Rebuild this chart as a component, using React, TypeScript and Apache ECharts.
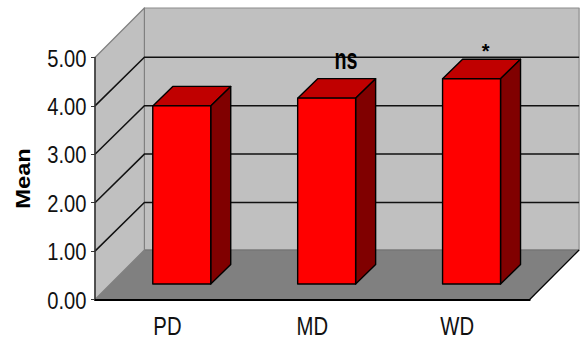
import React, { useEffect, useRef } from "react";
import * as echarts from "echarts";

const categories = ["PD", "MD", "WD"];
const meanValues = [3.68, 3.84, 4.24];
const significance = ["", "ns", "*"];
const gridTicks = [1, 2, 3, 4];
const allTicks = [0, 1, 2, 3, 4, 5];
const yMax = 5;

// Oblique projection of the plot box and of the bars inside it, in pixels.
const DEPTH_X = 49.4;
const DEPTH_Y = 49.5;
const GRID_DEPTH_Y = 48.6;
const BAR_FRONT_X = 14.3;
const BAR_FRONT_Y = 15.5;
const BAR_DEPTH_X = 20;
const BAR_DEPTH_Y = 19.5;
const BAR_WIDTH_SHARE = 0.4;

const WALL = "#c0c0c0";
const FLOOR = "#808080";
const EDGE = "#808080";
const FONT = '"Liberation Sans", Arial, sans-serif';

const poly = (points: number[][], fill: string, stroke: string, lineWidth = 1) => ({
  type: "polygon",
  shape: { points },
  style: { fill, stroke, lineWidth, lineJoin: "round" },
});

// Back wall, floor and side wall of the box.
const renderWalls = (params: any, api: any) => {
  const cs = params.coordSys;
  const x0 = cs.x;
  const x1 = cs.x + cs.width;
  const top = api.coord([0, yMax])[1];
  const base = api.coord([0, 0])[1];
  return {
    type: "group",
    children: [
      poly(
        [
          [x0 + DEPTH_X, top - DEPTH_Y],
          [x1 + DEPTH_X, top - DEPTH_Y],
          [x1 + DEPTH_X, base - DEPTH_Y],
          [x0 + DEPTH_X, base - DEPTH_Y],
        ],
        WALL,
        "#8c8c8c",
        1.2,
      ),
      poly(
        [[x0, base], [x0 + DEPTH_X, base - DEPTH_Y], [x1 + DEPTH_X, base - DEPTH_Y], [x1, base]],
        FLOOR,
        "#707070",
        1,
      ),
      poly(
        [[x0, base], [x0, top], [x0 + DEPTH_X, top - DEPTH_Y], [x0 + DEPTH_X, base - DEPTH_Y]],
        WALL,
        EDGE,
        1.2,
      ),
      {
        type: "line",
        shape: { x1, y1: base, x2: x1 + DEPTH_X, y2: base - DEPTH_Y },
        style: { stroke: "#000", lineWidth: 1.2 },
      },
    ],
  };
};

// One gridline per value: across the side wall, then along the back wall.
const renderGridline = (params: any, api: any) => {
  const cs = params.coordSys;
  const x0 = cs.x;
  const x1 = cs.x + cs.width;
  const y = api.coord([0, api.value(1)])[1];
  return {
    type: "polyline",
    shape: {
      points: [
        [x0, y],
        [x0 + DEPTH_X, y - GRID_DEPTH_Y],
        [x1 + DEPTH_X, y - GRID_DEPTH_Y],
      ],
    },
    style: { fill: "none", stroke: "#111", lineWidth: 1.5 },
  };
};

// A bar as a front face, a top face and a side face.
const renderBar = (params: any, api: any) => {
  const idx = api.value(0);
  const [cx, yTop] = api.coord([idx, api.value(1)]);
  const base = api.coord([idx, 0])[1];
  const w = api.size([1, 0])[0] * BAR_WIDTH_SHARE;
  const left = cx + BAR_FRONT_X - w / 2;
  const right = left + w;
  const t = yTop - BAR_FRONT_Y;
  const b = base - BAR_FRONT_Y;
  const dx = BAR_DEPTH_X;
  const dy = BAR_DEPTH_Y;
  const stroke = "#000";
  return {
    type: "group",
    children: [
      poly([[left, t], [left + dx, t - dy], [right + dx, t - dy], [right, t]], "#c00000", stroke, 1.4),
      poly([[right, t], [right + dx, t - dy], [right + dx, b - dy], [right, b]], "#800000", stroke, 1.4),
      poly([[left, t], [right, t], [right, b], [left, b]], "#ff0000", stroke, 1.4),
    ],
  };
};

// Significance marks sitting above the bars.
const renderMark = (params: any, api: any) => {
  const idx = api.value(0);
  const mark = significance[idx];
  const [cx, yTop] = api.coord([idx, api.value(1)]);
  const isStar = mark === "*";
  return {
    type: "text",
    x: cx + (isStar ? 28.3 : 33.7),
    y: yTop - (isStar ? 43 : 55.6),
    scaleX: isStar ? 1 : 0.82,
    scaleY: isStar ? 1 : 1.25,
    style: {
      text: mark,
      fill: "#000",
      font: `bold ${isStar ? 20 : 24}px ${FONT}`,
      textAlign: "center",
      textVerticalAlign: "middle",
    },
  };
};

// Value labels: condensed Arial-style figures right-aligned beside the ticks.
const renderValueLabel = (params: any, api: any) => {
  const v = api.value(1);
  const y = api.coord([0, v])[1];
  return {
    type: "text",
    x: params.coordSys.x - 8.5,
    y: y + 1,
    scaleX: 0.84,
    style: {
      text: v.toFixed(2),
      fill: "#111",
      font: `24px ${FONT}`,
      textAlign: "right",
      textVerticalAlign: "middle",
    },
  };
};

// Category labels centred under their bands.
const renderCategoryLabel = (params: any, api: any) => {
  const idx = api.value(0);
  const [cx, base] = api.coord([idx, 0]);
  return {
    type: "text",
    x: cx,
    y: base + 27,
    scaleX: 0.78,
    style: {
      text: categories[idx],
      fill: "#111",
      font: `26px ${FONT}`,
      textAlign: "center",
      textVerticalAlign: "middle",
    },
  };
};

export default function App() {
  const ref = useRef<HTMLDivElement>(null);
  useEffect(() => {
    const chart = echarts.init(ref.current!, undefined, { renderer: "svg" });
    const barData = meanValues.map((v, i) => [i, v]);
    chart.setOption({
      animation: false,
      backgroundColor: "#fff",
      grid: { left: 95, top: 57.5, width: 434.7, height: 242 },
      xAxis: {
        type: "category",
        data: categories,
        z: 10,
        axisLine: { lineStyle: { color: "#000", width: 2 } },
        axisTick: { length: 4, lineStyle: { color: "#222", width: 1 } },
        axisLabel: { show: false },
      },
      yAxis: {
        type: "value",
        min: 0,
        max: yMax,
        interval: 1,
        z: 10,
        axisLine: { show: true, lineStyle: { color: "#333", width: 1.5 } },
        axisTick: { show: true, length: 4, lineStyle: { color: "#333", width: 1 } },
        splitLine: { show: false },
        axisLabel: { show: false },
      },
      graphic: [
        {
          type: "text",
          x: 22.5,
          y: 178.5,
          rotation: Math.PI / 2,
          scaleX: 1.13,
          style: {
            text: "Mean",
            fill: "#000",
            font: `bold 21px ${FONT}`,
            textAlign: "center",
            textVerticalAlign: "middle",
          },
        },
      ],
      series: [
        { type: "custom", z: 1, renderItem: renderWalls, data: [[0, 0]], silent: true },
        {
          type: "custom",
          z: 2,
          renderItem: renderGridline,
          data: gridTicks.map((v) => [0, v]),
          silent: true,
        },
        { type: "custom", z: 3, renderItem: renderBar, data: barData, silent: true },
        {
          type: "custom",
          z: 4,
          renderItem: renderMark,
          data: barData.filter((d) => significance[d[0]] !== ""),
          silent: true,
        },
        {
          type: "custom",
          z: 4,
          renderItem: renderValueLabel,
          data: allTicks.map((v) => [0, v]),
          silent: true,
        },
        {
          type: "custom",
          z: 4,
          renderItem: renderCategoryLabel,
          data: categories.map((_, i) => [i, 0]),
          silent: true,
        },
      ],
    });
    return () => chart.dispose();
  }, []);
  return (
    <div
      ref={ref}
      style={{ position: "absolute", left: 0, top: 0, width: 582, height: 340 }}
    />
  );
}
